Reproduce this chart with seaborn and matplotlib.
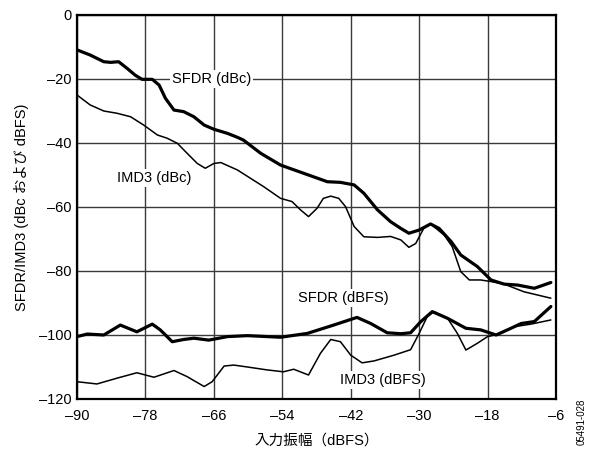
import matplotlib
matplotlib.use("Agg")
import matplotlib.pyplot as plt
import seaborn as sns
import pandas as pd

# Input amplitude (dBFS) and measured levels for each trace
sfdr_dbc_x = [-90, -87.7, -85.3, -84.1, -82.7, -81.2, -79.8, -78.6, -76.8, -75.6, -74.5, -73,
              -71.3, -69.5, -67.7, -66, -63.6, -61.9, -60.8, -57.8, -54.3, -50.2, -46.1, -43.8,
              -41.4, -39.7, -37.3, -35, -33.2, -31.8, -30, -28, -26.5, -24.4, -22.7, -19.8,
              -17.4, -15.1, -12.7, -9.8, -6.9]
sfdr_dbc_y = [-10.9, -12.5, -14.6, -14.8, -14.6, -16.7, -18.8, -20.1, -20.1, -21.9, -26, -29.7,
              -30.2, -31.8, -34.4, -35.7, -37, -38.2, -39.1, -43.2, -46.9, -49.5, -52.1, -52.3,
              -53.1, -55.7, -60.9, -64.6, -66.7, -68.2, -67.2, -65.3, -66.7, -70.8, -75, -78.6,
              -82.8, -84.1, -84.4, -85.4, -83.6]

imd3_dbc_x = [-90, -87.7, -85.3, -83, -80.6, -78.3, -75.9, -74.2, -72.4, -70.7, -68.9, -67.5,
              -66, -64.8, -61.9, -59.6, -57.3, -54.3, -52.3, -50.8, -49.4, -47.9, -46.8, -45.5,
              -44.1, -42.9, -41.4, -39.7, -37.3, -35, -33.2, -31.8, -30.6, -29.2, -28, -25.6,
              -24.2, -22.7, -21.2, -19.2, -17.4, -15.1, -11.6, -6.9]
imd3_dbc_y = [-25, -28.1, -30, -30.7, -31.8, -34.4, -37.5, -38.5, -40.1, -43.2, -46.4, -47.9,
              -46.4, -46.1, -48.4, -51, -53.6, -57.3, -58.3, -60.9, -63, -60.4, -57.3, -56.6,
              -57.3, -59.9, -66.1, -69.3, -69.5, -69.2, -70.3, -72.6, -71.4, -66.7, -65.3, -68.8,
              -72.4, -80.2, -82.8, -82.8, -83.3, -84.1, -86.5, -88.5]

sfdr_dbfs_x = [-90, -88.2, -85.3, -82.4, -79.5, -76.8, -75.4, -73.3, -71.3, -69.5, -66.9, -63.6,
               -60.1, -54.3, -49.6, -45, -40.9, -38.5, -35.6, -33.2, -31.5, -29.7, -27.7, -25,
               -21.8, -19.2, -16.5, -13.9, -12.1, -9.8, -6.9]
sfdr_dbfs_y = [-100.5, -99.7, -100, -96.9, -99, -96.6, -98.4, -102.1, -101.4, -101, -101.6,
               -100.5, -100.2, -100.7, -99.5, -96.9, -94.5, -96.4, -99.3, -99.6, -99.3, -95.8,
               -92.7, -94.8, -97.9, -98.4, -100, -97.9, -96.4, -95.8, -91.1]

imd3_dbfs_x = [-90, -86.5, -83, -79.5, -76.5, -73, -70.7, -67.7, -66.3, -64.2, -62.5, -60.1,
               -56.7, -53.8, -52, -49.4, -47.3, -45.5, -43.8, -42, -40, -37.9, -34.4, -31.5,
               -30, -28.6, -27.4, -25, -23.3, -21.8, -19.8, -18, -16.2, -13.3, -10.4, -6.9]
imd3_dbfs_y = [-114.6, -115.3, -113.5, -111.8, -113.2, -111.1, -113, -116.1, -114.6, -109.7,
               -109.4, -110, -110.9, -111.5, -110.7, -112.5, -105.7, -101.4, -102.1, -106.3,
               -108.7, -108.1, -106.3, -104.6, -99.5, -94.3, -92.7, -94.8, -99.5, -104.7,
               -102.6, -100.5, -99.8, -97.4, -96.6, -95.3]

x_ticks = [-90, -78, -66, -54, -42, -30, -18, -6]
y_ticks = [0, -20, -40, -60, -80, -100, -120]

sns.set_theme(style="white")
plt.rcParams["font.family"] = ["Liberation Sans", "Noto Sans CJK JP"]
plt.rcParams["text.color"] = "black"
plt.rcParams["axes.labelcolor"] = "black"

fig = plt.figure(figsize=(5.90, 4.53), dpi=100)
ax = fig.add_axes([77 / 590, 1 - 399 / 453, (556 - 77) / 590, (399 - 15) / 453])

traces = [
    (sfdr_dbc_x, sfdr_dbc_y, 2.3),
    (imd3_dbc_x, imd3_dbc_y, 1.1),
    (sfdr_dbfs_x, sfdr_dbfs_y, 2.3),
    (imd3_dbfs_x, imd3_dbfs_y, 1.1),
]
for xs, ys, lw in traces:
    df = pd.DataFrame({"x": xs, "y": ys})
    sns.lineplot(data=df, x="x", y="y", ax=ax, color="black", linewidth=lw,
                 sort=False, estimator=None, solid_joinstyle="round",
                 solid_capstyle="round", zorder=3)

ax.set_xlim(-90, -6)
ax.set_ylim(-120, 0)
ax.set_xticks(x_ticks)
ax.set_yticks(y_ticks)
ax.set_xticklabels([f"\u2013{abs(v)}" if v < 0 else str(v) for v in x_ticks])
ax.set_yticklabels([f"\u2013{abs(v)}" if v < 0 else str(v) for v in y_ticks])
ax.grid(True, color="#3a3a3a", linewidth=1.0)
ax.set_axisbelow(True)
ax.tick_params(axis="both", length=0, labelsize=10.5, colors="black")
ax.tick_params(axis="x", pad=7)
ax.tick_params(axis="y", pad=4)
for s in ax.spines.values():
    s.set_visible(True)
    s.set_color("black")
    s.set_linewidth(1.6)

ax.set_xlabel("入力振幅（dBFS）", fontsize=10.5, labelpad=8)
ax.set_ylabel("SFDR/IMD3 (dBc および dBFS)", fontsize=10.5, labelpad=7)

box = dict(facecolor="white", edgecolor="none", pad=1.5)
for tx, ty, s in [(-66.4, -20, "SFDR (dBc)"), (-76.5, -51, "IMD3 (dBc)"),
                  (-43.3, -88.4, "SFDR (dBFS)"), (-36.3, -114, "IMD3 (dBFS)")]:
    ax.text(tx, ty, s, ha="center", va="center", fontsize=10.5, bbox=box, zorder=4)

fig.text(0.985, 1 - 422 / 453, "05491-028", rotation=90, ha="center", va="center", fontsize=7)

fig.savefig("out.png", dpi=100)
